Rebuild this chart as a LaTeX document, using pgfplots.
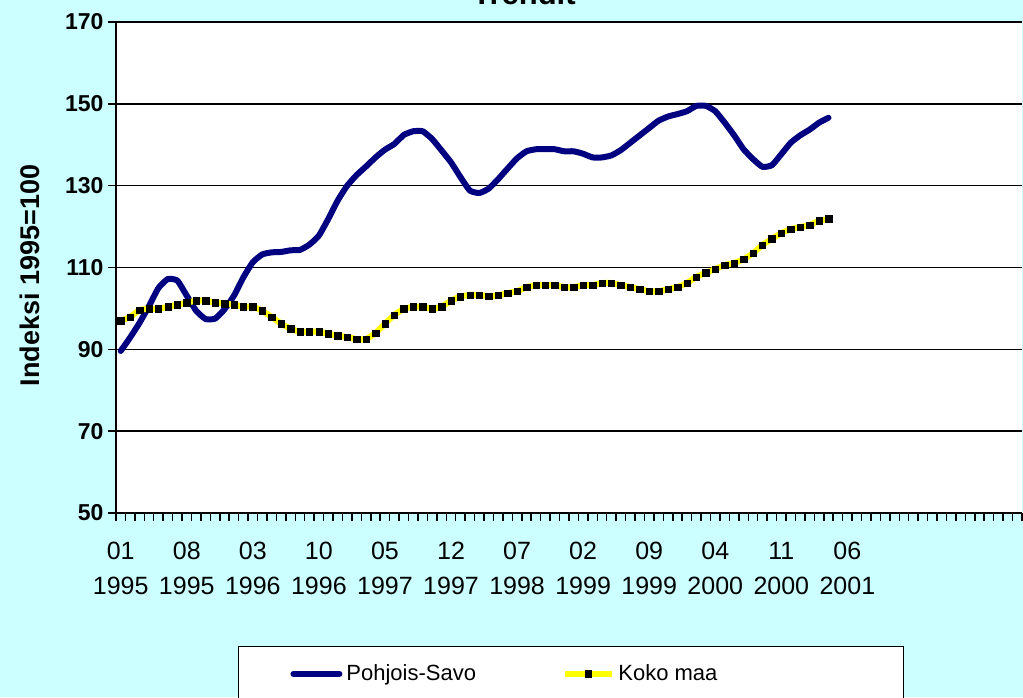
\documentclass[border=0pt]{standalone}
\usepackage{pgfplots}
\pgfplotsset{compat=1.18}
\usepackage{fontspec}
\setmainfont{Liberation Sans}
\definecolor{bgc}{RGB}{204,255,255}
\definecolor{navyc}{RGB}{0,0,128}
\definecolor{yelc}{RGB}{255,255,0}
\begin{document}
\begin{tikzpicture}
\fill[bgc] (0,0) rectangle (511.5pt,348.5pt);
\begin{axis}[
  at={(58pt,92pt)}, anchor=south west,
  scale only axis, width=453pt, height=245.5pt,
  xmin=-0.5, xmax=95.5, ymin=50, ymax=170,
  axis background/.style={fill=white},
  axis x line*=bottom, axis y line*=left,
  axis line style={black, line width=0.8pt, -},
  ytick={50,70,...,170},
  minor ytick={50,70,...,170},
  ymajorgrids, major grid style={black, line width=0.7pt},
  xtick={0,7,...,77},
  xticklabels={{01\\1995},{08\\1995},{03\\1996},{10\\1996},{05\\1997},{12\\1997},{07\\1998},{02\\1999},{09\\1999},{04\\2000},{11\\2000},{06\\2001}},
  minor xtick={-0.5,0.5,...,95.5},
  tick align=outside,
  major tick length=0pt, minor tick length=4pt,
  minor tick style={black, line width=0.75pt},
  /pgf/number format/assume math mode=true,
  yticklabel style={font=\bfseries\fontsize{11.5}{13}\selectfont, xshift=-2.7pt},
  xticklabel style={font=\fontsize{12.5}{17.5}\selectfont, align=center, yshift=-11pt},
  ylabel={Indeksi 1995=100},
  ylabel style={font=\bfseries\fontsize{13.5}{15}\selectfont, at={(axis description cs:-0.0949,0.4837)}, anchor=center},
  legend style={at={(axis description cs:0.1347,-0.2709)}, anchor=north west, draw=black, fill=white,
    legend columns=2, font=\fontsize{11}{12.5}\selectfont, inner xsep=26pt, inner ysep=7pt},
  legend image code/.code={\draw[mark repeat=2,mark phase=2,#1] plot coordinates {(0pt,0pt) (11.5pt,0pt) (23pt,0pt)};},
]
\addplot[navyc, line width=3pt, smooth, tension=0.3, line join=round, line cap=round] table {
x y
0 89.6
1 92.9
2 96.5
3 100.6
4 105.0
5 107.2
6 106.8
7 103.1
8 99.4
9 97.4
10 97.5
11 99.8
12 103.1
13 107.6
14 111.3
15 113.2
16 113.7
17 113.8
18 114.2
19 114.3
20 115.6
21 117.8
22 121.9
23 126.4
24 130.0
25 132.6
26 134.7
27 136.9
28 138.8
29 140.2
30 142.4
31 143.3
32 143.3
33 141.4
34 138.6
35 135.7
36 132.1
37 128.8
38 128.2
39 129.3
40 131.6
41 134.2
42 136.7
43 138.4
44 138.9
45 138.9
46 138.9
47 138.4
48 138.4
49 137.8
50 136.9
51 136.9
52 137.4
53 138.7
54 140.5
55 142.3
56 144.1
57 145.9
58 146.9
59 147.5
60 148.2
61 149.5
62 149.5
63 148.2
64 145.4
65 142.3
66 138.9
67 136.5
68 134.6
69 135.0
70 137.7
71 140.5
72 142.3
73 143.7
74 145.4
75 146.6
};
\addlegendentry{\makebox[106pt][l]{Pohjois-Savo}}
\addplot[yelc, line width=3pt, smooth, tension=0.3, mark=square*, mark size=1.6pt, mark options={solid, draw=black, fill=black, line width=0.2pt}] table {
x y
0 97.0
1 97.9
2 99.6
3 99.9
4 99.9
5 100.4
6 100.9
7 101.4
8 101.9
9 101.9
10 101.4
11 101.2
12 100.9
13 100.4
14 100.4
15 99.4
16 97.9
17 96.3
18 95.0
19 94.3
20 94.3
21 94.3
22 93.8
23 93.3
24 93.0
25 92.5
26 92.5
27 94.0
28 96.3
29 98.4
30 99.9
31 100.4
32 100.4
33 99.9
34 100.4
35 101.9
36 102.9
37 103.3
38 103.3
39 103.0
40 103.2
41 103.7
42 104.2
43 105.2
44 105.7
45 105.7
46 105.7
47 105.2
48 105.2
49 105.7
50 105.7
51 106.2
52 106.2
53 105.7
54 105.2
55 104.7
56 104.2
57 104.2
58 104.7
59 105.2
60 106.2
61 107.7
62 108.7
63 109.6
64 110.6
65 111.1
66 112.0
67 113.5
68 115.5
69 117.0
70 118.4
71 119.4
72 119.9
73 120.4
74 121.4
75 121.9
};
\addlegendentry{\makebox[114.5pt][l]{Koko maa}}
\end{axis}
\node[font=\bfseries\fontsize{15.5}{18}\selectfont, anchor=base] at (262pt,346pt) {Trendit};
\pgfresetboundingbox
\path[use as bounding box] (0,0) rectangle (511.5pt,348.5pt);
\end{tikzpicture}
\end{document}
